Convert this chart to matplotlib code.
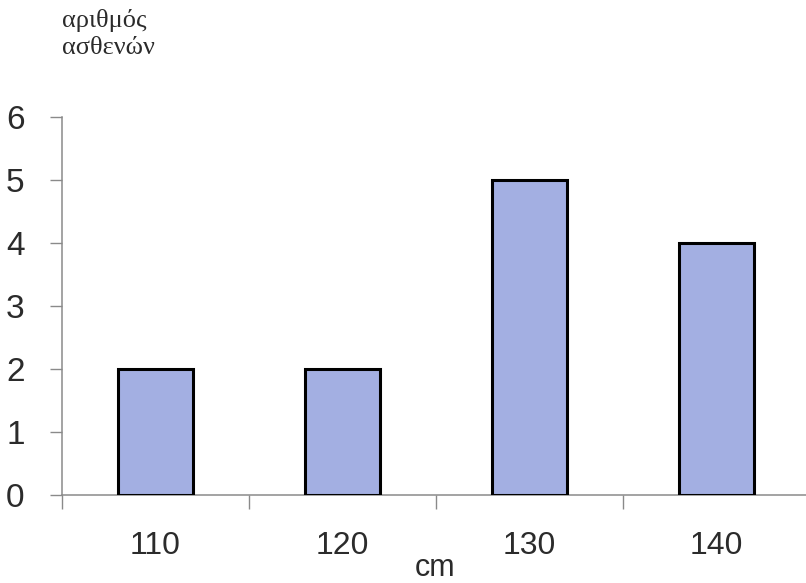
import matplotlib.pyplot as plt
import numpy as np

categories = ["110", "120", "130", "140"]
patients = [2, 2, 5, 4]
y_ticks = [0, 1, 2, 3, 4, 5, 6]

BAR_COLOR = "#a3afe2"
AXIS_COLOR = "#8a8a8a"
TEXT_COLOR = "#2b2b2b"

fig = plt.figure(figsize=(8.06, 5.83), dpi=100)
ax = fig.add_axes([0.077, 0.151, 0.928, 0.648])

x = np.arange(len(categories))
ax.bar(x, patients, width=0.4, color=BAR_COLOR, edgecolor="black", linewidth=2.2, zorder=3)

ax.set_xlim(-0.5, len(categories) - 0.5)
ax.set_ylim(0, 6)
ax.set_yticks(y_ticks)
ax.set_yticklabels([str(v) for v in y_ticks], fontsize=24, fontfamily="Liberation Sans", color=TEXT_COLOR)

# category labels at centres, tick marks at the boundaries between categories
ax.set_xticks(x)
ax.set_xticklabels(categories, fontsize=23, fontfamily="Liberation Sans", color=TEXT_COLOR)
ax.tick_params(axis="x", which="major", length=0, pad=26)
ax.set_xticks(np.arange(len(categories) + 1) - 0.5, minor=True)
ax.tick_params(axis="x", which="minor", length=10, width=1, color=AXIS_COLOR, direction="out")
ax.tick_params(axis="y", length=9, width=1, color=AXIS_COLOR, pad=18)

for side in ["top", "right"]:
    ax.spines[side].set_visible(False)
for side in ["left", "bottom"]:
    ax.spines[side].set_color(AXIS_COLOR)
    ax.spines[side].set_linewidth(1.1)

fig.text(0.077, 0.985, "αριθμός\nασθενών", ha="left", va="top", fontsize=19,
         fontfamily="Liberation Serif", color=TEXT_COLOR, linespacing=1.3)
fig.text(0.54, 0.0, "cm", ha="center", va="bottom", fontsize=22,
         fontfamily="Liberation Sans", color=TEXT_COLOR)

fig.savefig("out.png", dpi=100)
